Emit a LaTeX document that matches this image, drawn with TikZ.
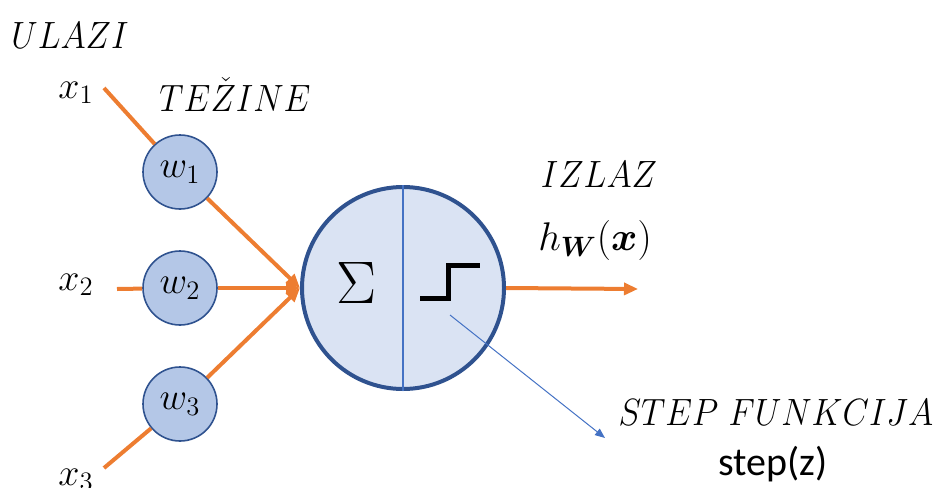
\documentclass[tikz,border=0pt]{standalone}
\usepackage{fix-cm}
\usepackage{amsmath}
\usepackage{fontspec}
\newfontfamily\calibri{Carlito}
\usetikzlibrary{arrows.meta}
\definecolor{wireorange}{HTML}{ED7D31}
\definecolor{cellblue}{HTML}{B4C7E7}
\definecolor{bodyblue}{HTML}{DAE3F3}
\definecolor{rimblue}{HTML}{2F528F}
\definecolor{lineblue}{HTML}{4472C4}
\newcommand{\capsword}[1]{\scalebox{0.9}[1]{$#1$}}
\tikzset{wt/.style={circle, draw=rimblue, fill=cellblue, line width=0.8pt,
  minimum size=37pt, inner sep=0pt, font=\fontsize{19}{23}\selectfont},
  lbl/.style={anchor=base, inner sep=0pt, font=\fontsize{19}{23}\selectfont},
  wire/.style={draw=wireorange, line width=2pt}}

\begin{document}
\begin{tikzpicture}[x=0.5pt, y=-0.5pt,
  >={Triangle[length=7pt, width=6pt]}]
  \useasboundingbox (0,0) rectangle (935,487);
  % Inputs and weights
  \node[lbl] (ulazi)  at (70,48)   {\capsword{ULAZI}};
  \node[lbl] (tezine) at (235,111) {\capsword{TE\check{Z}INE}};
  \node[lbl] (x1) at (76,98)  {$x_1$};
  \node[lbl] (x2) at (76,290) {$x_2$};
  \node[lbl] (x3) at (76,485) {$x_3$};
  \node[wt] (w1) at (180,172) {$w_1$};
  \node[wt] (w2) at (180,288) {$w_2$};
  \node[wt] (w3) at (180,404) {$w_3$};
  \coordinate (in1) at (104,88);
  \coordinate (in2) at (117,289);
  \coordinate (in3) at (104,468);
  % Neuron
  \node[circle, draw=rimblue, fill=bodyblue, line width=2pt,
    minimum size=101pt] (neuron) at (403,288) {};
  \draw[lineblue, line width=0.7pt] (neuron.north) -- (neuron.south);
  \node[font=\fontsize{30}{34}\selectfont] (sum) at (357,283) {$\Sigma$};
  \draw[line width=2.5pt] (420,298) -- (448,298) -- (448,265) -- (480,265);
  % Wires
  \draw[wire] (in1) -- (w1);
  \draw[wire] (in2) -- (w2);
  \draw[wire] (in3) -- (w3);
  \draw[wire, ->] (w1) -- (neuron.west);
  \draw[wire, ->] (w2) -- (neuron.west);
  \draw[wire, ->] (w3) -- (neuron.west);
  \coordinate (out) at (638,289);
  \draw[wire, ->] (neuron.east) -- (out);
  % Output and step function
  \node[lbl] (izlaz) at (599,187) {\capsword{IZLAZ}};
  \node[lbl, font=\fontsize{20}{24}\selectfont] (hw) at (595,250)
    {$h_{\boldsymbol{W}}(\boldsymbol{x})$};
  \coordinate (stepin)  at (450,315);
  \coordinate (stepout) at (605,438);
  \draw[lineblue, line width=0.5pt, -{Triangle[length=5pt, width=4pt]}]
    (stepin) -- (stepout);
  \node[lbl] (stepname) at (776,425) {\capsword{STEP\ FUNKCIJA}};
  \node[lbl, font=\calibri\fontsize{20}{24}\selectfont] (stepz) at (773,475)
    {step(z)};
\end{tikzpicture}
\end{document}
